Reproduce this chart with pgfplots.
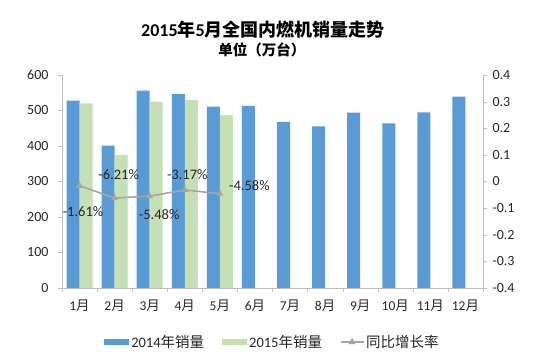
\documentclass[border=0pt]{standalone}
\usepackage{pgfplots}
\pgfplotsset{compat=1.18}
\usepackage{fontspec}
\setmainfont{Carlito}
\newfontfamily\cjk{Noto Sans CJK SC}
\definecolor{bblue}{HTML}{5B9BD5}
\definecolor{lgreen}{HTML}{C5E0B4}
\definecolor{lgray}{HTML}{A5A5A5}
\definecolor{axgray}{HTML}{BFBFBF}
\definecolor{txt}{HTML}{262626}
\begin{document}
\begin{tikzpicture}[x=1pt,y=1pt]
\path[use as bounding box] (-62,-67) rectangle (477,288);
\begin{axis}[
  at={(0,0)}, anchor=south west, scale only axis,
  width=421pt, height=213pt,
  xmin=0.5, xmax=12.5, ymin=0, ymax=600,
  axis x line*=bottom, axis y line*=left,
  axis line style={axgray},
  xtick={1,...,12},
  xticklabels={1{\cjk 月},2{\cjk 月},3{\cjk 月},4{\cjk 月},5{\cjk 月},6{\cjk 月},7{\cjk 月},8{\cjk 月},9{\cjk 月},10{\cjk 月},11{\cjk 月},12{\cjk 月}},
  major x tick style={draw=none},
  minor xtick={0.5,1.5,...,12.5},
  minor tick length=4pt,
  minor x tick style={axgray},
  tick align=outside,
  ytick={0,100,200,300,400,500,600},
  yticklabels={0,100,200,300,400,500,600},
  major y tick style={axgray},
  major tick length=4pt,
  xticklabel style={font=\fontsize{13.5}{15}\selectfont, text=txt, yshift=-4pt},
  yticklabel style={font=\fontsize{14}{16}\selectfont, text=txt, xshift=-6pt},
  ybar, bar width=13pt,
]
\addplot[fill=bblue, draw=none, bar shift=-6.5pt] coordinates {
 (1,528) (2,401) (3,556) (4,546) (5,511) (6,513) (7,468) (8,455) (9,494) (10,464) (11,495) (12,539)};
\addplot[fill=lgreen, draw=none, bar shift=6.5pt] coordinates {
 (1,520) (2,375) (3,525) (4,529) (5,487)};
\end{axis}
\begin{axis}[
  at={(0,0)}, anchor=south west, scale only axis,
  width=421pt, height=213pt,
  xmin=0.5, xmax=12.5, ymin=-0.4, ymax=0.4,
  axis x line=none, axis y line*=right,
  axis line style={axgray},
  ytick={-0.4,-0.3,-0.2,-0.1,0,0.1,0.2,0.3,0.4},
  yticklabels={-0.4,-0.3,-0.2,-0.1,0,0.1,0.2,0.3,0.4},
  major y tick style={axgray},
  major tick length=4pt, tick align=outside,
  yticklabel style={font=\fontsize{14}{16}\selectfont, text=txt, xshift=2pt},
  legend style={at={(0.5,-67pt+13pt)}, anchor=center, draw=none, fill=none,
    legend columns=3, font=\fontsize{14.5}{16}\selectfont, text=txt,
    /tikz/every even column/.append style={column sep=16pt}},
  legend cell align=left,
]
\addlegendimage{area legend, fill=bblue, draw=none,
  legend image code/.code={\fill[bblue] (0pt,-3pt) rectangle (25pt,3pt);}}
\addlegendentry{2014{\cjk 年销量}}
\addlegendimage{area legend, fill=lgreen, draw=none,
  legend image code/.code={\fill[lgreen] (0pt,-3pt) rectangle (25pt,3pt);}}
\addlegendentry{2015{\cjk 年销量}}
\addplot[lgray, line width=1.6pt, mark=triangle*, mark size=2.5pt,
  mark options={fill=lgray, draw=lgray},
  legend image code/.code={\draw[lgray, line width=1.2pt] (0pt,0pt) -- (23pt,0pt);
   \fill[lgray] (11.5pt,0pt) ++(90:2.5pt) -- ++(-120:4.3pt) -- ++(0:4.3pt) -- cycle;}]
  coordinates {(1,-0.0161) (2,-0.0621) (3,-0.0548) (4,-0.0317) (5,-0.0458)};
\addlegendentry{{\cjk 同比增长率}}
\begin{scope}[font=\fontsize{14.5}{16}\selectfont, text=txt]
\node at ([shift={(3.5pt,-26pt)}]axis cs:1,-0.0161) {-1.61\%};
\node at ([shift={(4pt,23pt)}]axis cs:2,-0.0621) {-6.21\%};
\node at ([shift={(9.5pt,-19pt)}]axis cs:3,-0.0548) {-5.48\%};
\node at ([shift={(2.5pt,15pt)}]axis cs:4,-0.0317) {-3.17\%};
\node at ([shift={(29.5pt,8pt)}]axis cs:5,-0.0458) {-4.58\%};
\end{scope}
\end{axis}
\node[font=\bfseries\fontsize{18}{20}\selectfont, text=black] at (201,258) {2015{\cjk\bfseries 年}5{\cjk\bfseries 月全国内燃机销量走势}};
\node[font=\fontsize{14.5}{16}\selectfont, text=black] at (200,238) {{\cjk\bfseries 单位（万台）}};
\end{tikzpicture}
\end{document}
